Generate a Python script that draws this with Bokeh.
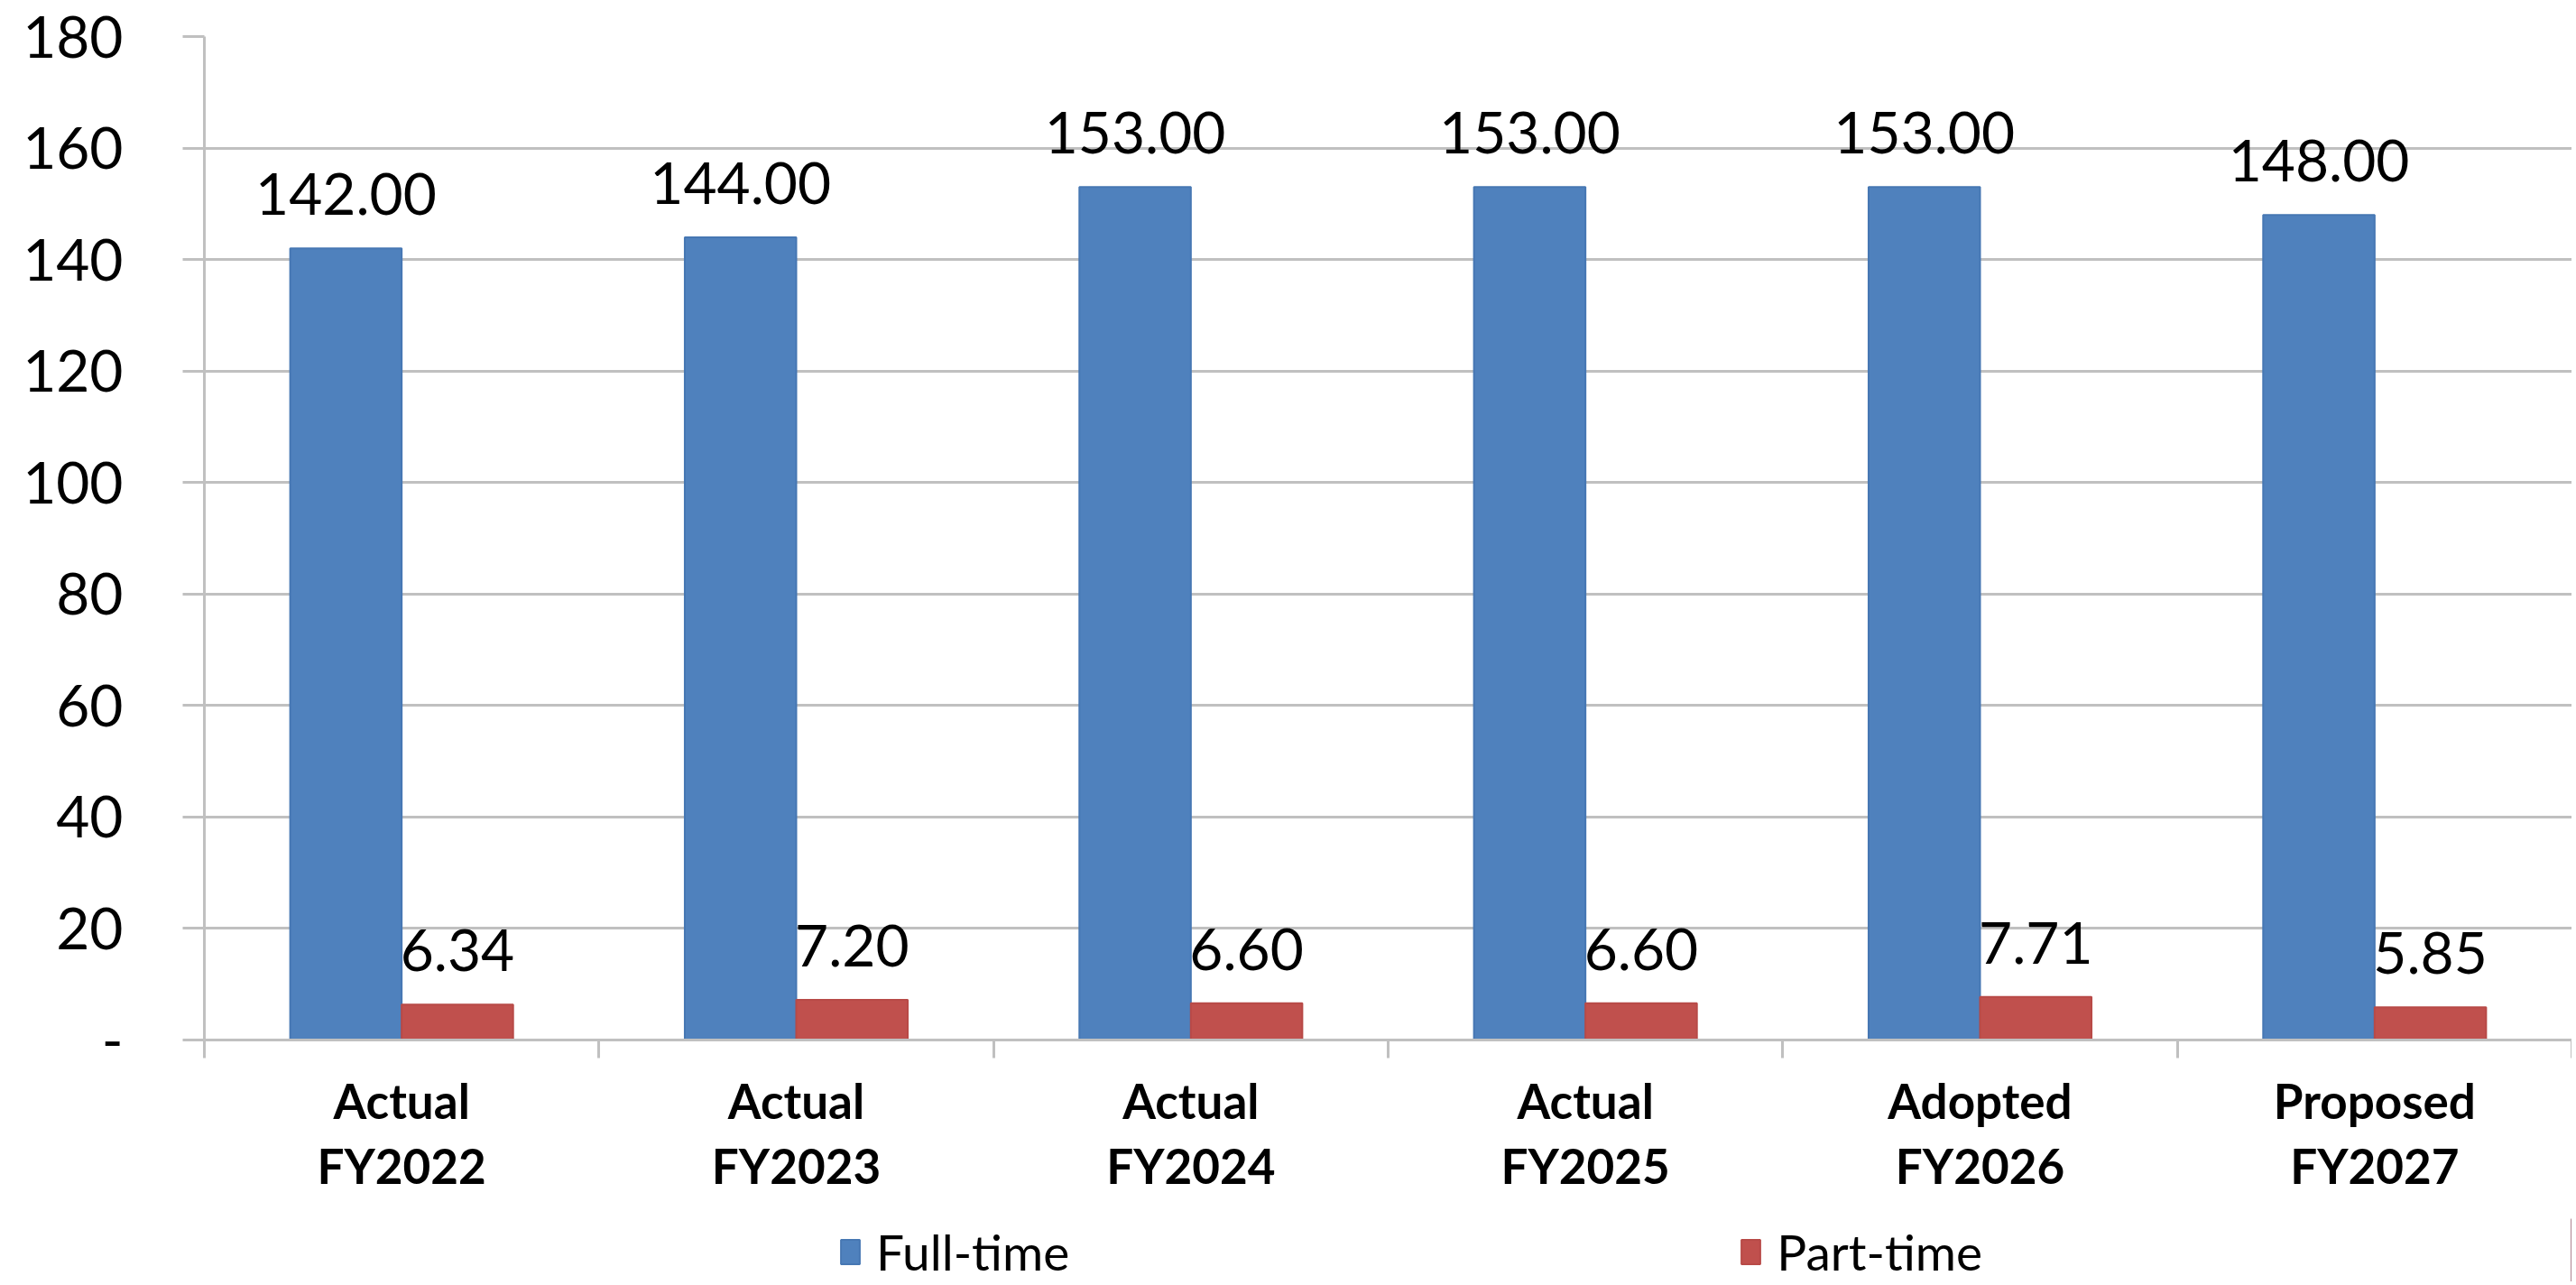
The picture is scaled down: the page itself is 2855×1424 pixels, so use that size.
from bokeh.plotting import figure
from bokeh.layouts import column
from bokeh.models import (Range1d, LinearAxis, FixedTicker,
                          Legend, LegendItem, ColumnDataSource)
from bokeh.transform import dodge
from bokeh.core.properties import value
from bokeh.embed import file_html
from bokeh.resources import INLINE

categories = ["Actual\nFY2022", "Actual\nFY2023", "Actual\nFY2024",
              "Actual\nFY2025", "Adopted\nFY2026", "Proposed\nFY2027"]
full_time = [142.00, 144.00, 153.00, 153.00, 153.00, 148.00]
part_time = [6.34, 7.20, 6.60, 6.60, 7.71, 5.85]
series_names = ["Full-time", "Part-time"]
y_ticks = [0, 20, 40, 60, 80, 100, 120, 140, 160, 180]

BLUE = "#4f81bd"
RED = "#c0504d"
GRID = "#c0c0c0"
FONT = "Lato"

n = len(categories)
centers = [i + 0.5 for i in range(n)]      # category slot centres
bounds = list(range(n + 1))                # category slot boundaries

src = ColumnDataSource(dict(
    xc=centers,
    full=full_time,
    part=part_time,
    full_lbl=[f"{v:.2f}" for v in full_time],
    part_lbl=[f"{v:.2f}" for v in part_time],
))

p = figure(x_range=Range1d(0, n), y_range=Range1d(0, 180),
           width=2850, height=1350, output_backend="svg", toolbar_location=None,
           x_axis_location=None,
           min_border_left=226, min_border_right=0, min_border_top=40, min_border_bottom=198)
p.outline_line_color = None
p.xgrid.visible = False
p.background_fill_color = "white"
p.border_fill_color = "white"

# y axis
ya = p.yaxis[0]
ya.ticker = FixedTicker(ticks=y_ticks)
ya.major_label_overrides = {0: "-"}
ya.axis_line_color = GRID
ya.axis_line_width = 3
ya.major_tick_line_color = GRID
ya.major_tick_line_width = 3
ya.major_tick_out = 24
ya.major_tick_in = 0
ya.minor_tick_line_color = None
ya.major_label_standoff = 66
ya.major_label_text_font = FONT
ya.major_label_text_font_size = "64px"
ya.major_label_text_color = "#000000"
p.ygrid.grid_line_color = GRID
p.ygrid.grid_line_width = 3

# x axis line with boundary ticks
tick_axis = LinearAxis(ticker=FixedTicker(ticks=bounds),
                       axis_line_color=GRID, axis_line_width=3,
                       major_tick_line_color=GRID, major_tick_line_width=3,
                       major_tick_out=20, major_tick_in=0,
                       minor_tick_line_color=None,
                       major_label_standoff=0,
                       major_label_overrides={b: "" for b in bounds},
                       major_label_text_font_size="1px")
p.add_layout(tick_axis, "below")

# category labels at slot centres
cat_axis = LinearAxis(ticker=FixedTicker(ticks=centers),
                      major_label_overrides={c: lab for c, lab in zip(centers, categories)},
                      axis_line_color=None, major_tick_line_color=None,
                      minor_tick_line_color=None,
                      major_tick_out=0, major_tick_in=0,
                      major_label_standoff=15,
                      major_label_text_font=FONT,
                      major_label_text_font_style="bold",
                      major_label_text_font_size="53px",
                      major_label_text_line_height=1.15,
                      major_label_text_color="#000000")
p.add_layout(cat_axis, "below")

bw = 0.2825
off = bw / 2
p.vbar(x=dodge("xc", -off), top="full", width=bw, source=src,
       fill_color=BLUE, line_color="#4677b3", line_width=2)
p.vbar(x=dodge("xc", off), top="part", width=bw, source=src,
       fill_color=RED, line_color="#b84a47", line_width=2)

p.text(x=dodge("xc", -off), y="full", text="full_lbl", source=src,
       text_align="center", text_baseline="alphabetic", y_offset=-60,
       text_font=value(FONT), text_font_size="64px", text_color="#000000")
p.text(x=dodge("xc", off), y="part", text="part_lbl", source=src,
       text_align="center", text_baseline="alphabetic", y_offset=-60,
       text_font=value(FONT), text_font_size="64px", text_color="#000000")

# legend strip below the chart (its frame is aligned with the chart's frame)
pl = figure(x_range=Range1d(0, 1), y_range=Range1d(0, 1),
            width=2850, height=70, output_backend="svg", toolbar_location=None,
            x_axis_location=None, y_axis_location=None, min_border=0)
pl.outline_line_color = None
pl.grid.visible = False
pl.background_fill_color = "white"
pl.border_fill_color = "white"
# one off-screen swatch per series so the legend has something to sample
swatch = ColumnDataSource(dict(x=[5], top=[1]))
l1 = pl.vbar(x="x", top="top", width=0.1, source=swatch,
             fill_color=BLUE, line_color="#4677b3", line_width=2)
l2 = pl.vbar(x="x", top="top", width=0.1, source=swatch,
             fill_color=RED, line_color="#b84a47", line_width=2)

legend = Legend(items=[LegendItem(label=series_names[0], renderers=[l1]),
                       LegendItem(label=series_names[1], renderers=[l2])],
                orientation="horizontal", location=(703, 0),
                spacing=742, label_standoff=16, glyph_width=26, glyph_height=34,
                label_text_font=FONT, label_text_font_size="55px",
                label_text_line_height=1.0,
                label_text_color="#000000",
                border_line_color=None, background_fill_alpha=0,
                padding=0, margin=0)
pl.add_layout(legend, "center")

layout = column(p, pl, spacing=0)
open("out.html", "w").write(file_html(layout, INLINE))
